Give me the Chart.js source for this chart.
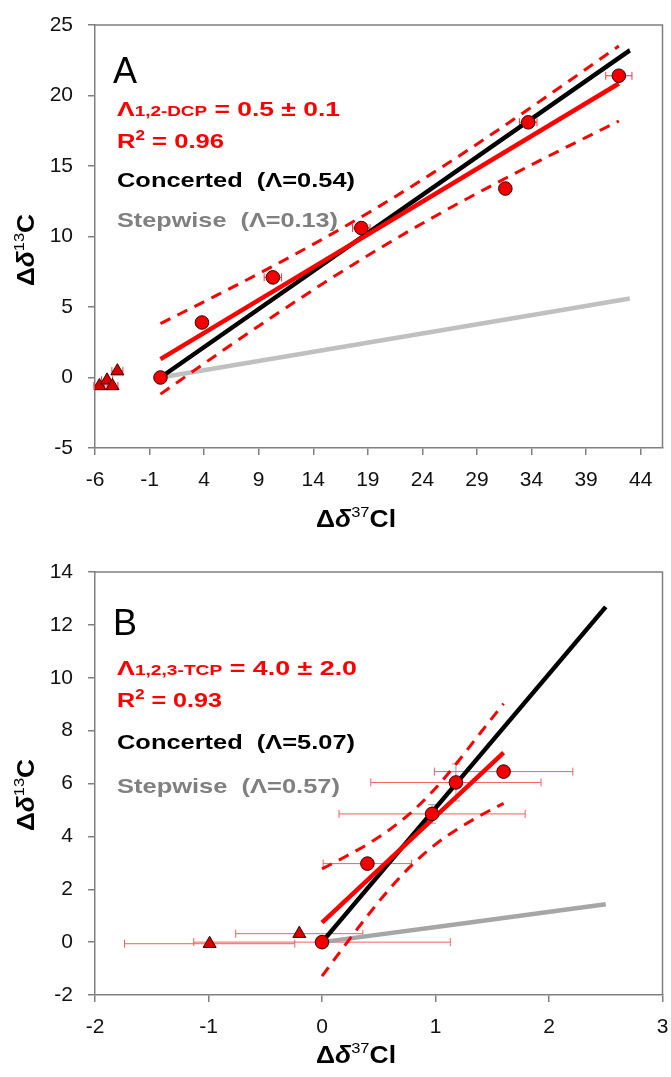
<!DOCTYPE html>
<html>
<head>
<meta charset="utf-8">
<script src="https://cdn.jsdelivr.net/npm/chart.js@4.4.0/dist/chart.umd.min.js"></script>
<style>
  body { margin: 0; background: #fff; }
  canvas { display: block; }
</style>
</head>
<body>
<canvas id="chartA" width="671" height="540"></canvas>
<canvas id="chartB" width="671" height="537"></canvas>
<script>
// ---- Panel A : 1,2-DCP ----
const circlesAX = [0, 3.8, 10.3, 18.4, 31.6, 33.7, 42.0];
const circlesAY = [0, 3.9, 7.1, 10.6, 13.4, 18.1, 21.4];
const circlesAXErr = [0.3, 0.3, 0.8, 0.8, 0.3, 0.8, 1.2];
const trianglesAX = [-5.6, -4.9, -4.4, -3.95];
const trianglesAY = [-0.6, -0.2, -0.6, 0.45];
const trianglesAXErr = [0.5, 0.5, 0.5, 0.5];
const modelXA = [0, 43];
const concertedAY = [0, 23.2];
const stepwiseAY = [0, 5.6];
const fitXA = [0, 42];
const fitAY = [1.3, 20.85];
const bandXA = [0, 5, 10, 15, 20, 25, 30, 35, 42];
const bandUpperA = [3.82, 5.77, 7.77, 9.88, 12.12, 14.53, 17.07, 19.72, 23.51];
const bandLowerA = [-1.18, 1.53, 4.17, 6.72, 9.12, 11.37, 13.47, 15.48, 18.19];
const xTicksA = [-6, -1, 4, 9, 14, 19, 24, 29, 34, 39, 44];
const yTicksA = [-5, 0, 5, 10, 15, 20, 25];

// ---- Panel B : 1,2,3-TCP ----
const circlesBX = [0, 0.40, 0.97, 1.18, 1.60];
const circlesBY = [0, 2.97, 4.85, 6.04, 6.45];
const circlesBXErr = [1.13, 0.39, 0.82, 0.75, 0.61];
const circlesBYErr = [0, 0, 0.35, 0.7, 0];
const trianglesBX = [-0.99, -0.20];
const trianglesBY = [-0.06, 0.32];
const trianglesBXErr = [0.75, 0.56];
const modelXB = [0, 2.5];
const concertedBY = [0, 12.68];
const stepwiseBY = [0, 1.43];
const fitXB = [0, 1.6];
const fitBY = [0.74, 7.17];
const bandXB = [0, 0.2, 0.4, 0.6, 0.8, 1.0, 1.2, 1.4, 1.6];
const bandUpperB = [2.77, 3.22, 3.70, 4.27, 4.96, 5.82, 6.84, 7.94, 9.02];
const bandLowerB = [-1.29, -0.13, 0.99, 2.04, 2.95, 3.70, 4.29, 4.80, 5.25];
const xTicksB = [-2, -1, 0, 1, 2, 3];
const yTicksB = [-2, 0, 2, 4, 6, 8, 10, 12, 14];

const FONT = "'Liberation Sans', Arial, sans-serif";
const RED = '#ff0000';
const GREY_TXT = '#808080';
const AXIS = '#808080';
Chart.defaults.font.family = FONT;

const b = px => 'bold ' + px + 'px ' + FONT;
const n = px => px + 'px ' + FONT;
const bi = px => 'italic bold ' + px + 'px ' + FONT;

function pts(xs, ys) {
  return xs.map((v, i) => ({ x: v, y: ys[i] }));
}

// draw a row of differently styled text pieces, squeezed/stretched to a width
function drawRuns(ctx, x, y, runs, width, center) {
  let natural = 0;
  runs.forEach(r => { ctx.font = r[1]; natural += ctx.measureText(r[0]).width; });
  const sx = width ? width / natural : 1;
  ctx.save();
  ctx.translate(center ? x - natural * sx / 2 : x, y);
  ctx.scale(sx, 1);
  ctx.textAlign = 'left';
  ctx.textBaseline = 'alphabetic';
  let cx = 0;
  runs.forEach(r => {
    ctx.font = r[1];
    ctx.fillStyle = r[2];
    ctx.fillText(r[0], cx, r[3] || 0);
    cx += ctx.measureText(r[0]).width;
  });
  ctx.restore();
}

const errorBars = {
  id: 'errorBars',
  beforeDatasetsDraw(chart, args, opts) {
    const { ctx, scales: { x, y } } = chart;
    ctx.save();
    ctx.lineWidth = 1;
    opts.sets.forEach(s => {
      s.xs.forEach((xv, i) => {
        const px = x.getPixelForValue(xv);
        const py = y.getPixelForValue(s.ys[i]);
        const ex = s.xerr ? s.xerr[i] : 0;
        if (ex) {
          const x0 = x.getPixelForValue(xv - ex), x1 = x.getPixelForValue(xv + ex);
          ctx.strokeStyle = s.color;
          ctx.beginPath();
          ctx.moveTo(x0, py); ctx.lineTo(x1, py);
          ctx.moveTo(x0, py - 4); ctx.lineTo(x0, py + 4);
          ctx.moveTo(x1, py - 4); ctx.lineTo(x1, py + 4);
          ctx.stroke();
        }
        const ey = s.yerr ? s.yerr[i] : 0;
        if (ey) {
          const y0 = y.getPixelForValue(s.ys[i] - ey), y1 = y.getPixelForValue(s.ys[i] + ey);
          ctx.strokeStyle = '#999';
          ctx.beginPath();
          ctx.moveTo(px, y0); ctx.lineTo(px, y1);
          ctx.moveTo(px - 4, y0); ctx.lineTo(px + 4, y0);
          ctx.moveTo(px - 4, y1); ctx.lineTo(px + 4, y1);
          ctx.stroke();
        }
      });
    });
    ctx.restore();
  }
};

const annotations = {
  id: 'annotations',
  afterDraw(chart, args, o) {
    const { ctx, chartArea: a } = chart;
    ctx.save();
    // frame top and right
    ctx.strokeStyle = AXIS;
    ctx.lineWidth = 1.5;
    ctx.beginPath();
    ctx.moveTo(a.left, a.top); ctx.lineTo(a.right, a.top); ctx.lineTo(a.right, a.bottom);
    ctx.stroke();
    // panel letter
    ctx.font = n(36);
    ctx.fillStyle = '#000';
    ctx.fillText(o.letter, 113, o.letterY);
    o.lines.forEach(l => drawRuns(ctx, 117, l.y, l.runs, l.w));
    // axis titles
    drawRuns(ctx, 356, o.xTitleY, [['Δ', b(24), '#000'], ['δ', bi(24), '#000'], ['37', n(15), '#000', -10], ['Cl', b(24), '#000']], 80, true);
    ctx.translate(34, o.yTitleY);
    ctx.rotate(-Math.PI / 2);
    drawRuns(ctx, 0, 0, [['Δ', b(24), '#000'], ['δ', bi(24), '#000'], ['13', n(15), '#000', -10], ['C', b(24), '#000']], 72, true);
    ctx.restore();
  }
};

function lineSet(xs, ys, color, width, dashed) {
  return {
    data: pts(xs, ys), showLine: true, pointRadius: 0,
    borderColor: color, borderWidth: width, borderDash: dashed ? [11, 8] : [],
    tension: dashed ? 0.4 : 0, cubicInterpolationMode: 'monotone', fill: false
  };
}

function buildPanel(id, p) {
  const axisBase = {
    type: 'linear',
    grid: { drawOnChartArea: false, drawTicks: true, tickLength: 7, color: AXIS, lineWidth: 1.5 },
    border: { display: true, color: AXIS, width: 1.5 }
  };
  return new Chart(document.getElementById(id), {
    type: 'scatter',
    data: {
      datasets: [
        { data: pts(p.cx, p.cy), pointStyle: 'circle', pointRadius: 6.8, backgroundColor: '#f00000', borderColor: '#3a0000', borderWidth: 1 },
        { data: pts(p.tx, p.ty), pointStyle: 'triangle', pointRadius: 7.5, backgroundColor: '#d80000', borderColor: '#3a0000', borderWidth: 1 },
        lineSet(p.fitX, p.fitY, RED, 4.5),
        lineSet(p.bandX, p.up, RED, 3, true),
        lineSet(p.bandX, p.lo, RED, 3, true),
        lineSet(p.modelX, p.conc, '#000', 4.5),
        lineSet(p.modelX, p.step, p.stepColor, 4.5)
      ]
    },
    options: {
      responsive: false,
      animation: false,
      events: [],
      layout: { padding: { top: p.top, right: 8, left: 0, bottom: 0 } },
      plugins: {
        legend: { display: false },
        tooltip: { enabled: false },
        errorBars: { sets: p.err },
        annotations: p.text
      },
      scales: {
        x: Object.assign({}, axisBase, {
          min: p.xMin, max: p.xMax,
          afterBuildTicks: s => { s.ticks = p.xTicks.map(v => ({ value: v })); },
          afterFit: s => { s.height = p.xAxisH; s.paddingLeft = 0; s.paddingRight = 0; },
          ticks: { autoSkip: false, maxRotation: 0, padding: 13, color: '#111', font: { size: 21 } }
        }),
        y: Object.assign({}, axisBase, {
          min: p.yMin, max: p.yMax,
          afterBuildTicks: s => { s.ticks = p.yTicks.map(v => ({ value: v })); },
          afterFit: s => { s.width = 95; s.paddingTop = 0; s.paddingBottom = 0; },
          ticks: { autoSkip: false, padding: 15, color: '#111', font: { size: 21 } }
        })
      }
    },
    plugins: [errorBars, annotations]
  });
}

buildPanel('chartA', {
  cx: circlesAX, cy: circlesAY, tx: trianglesAX, ty: trianglesAY,
  fitX: fitXA, fitY: fitAY, bandX: bandXA, up: bandUpperA, lo: bandLowerA,
  modelX: modelXA, conc: concertedAY, step: stepwiseAY, stepColor: '#c0c0c0',
  xMin: -6, xMax: 46, yMin: -5, yMax: 25, xTicks: xTicksA, yTicks: yTicksA,
  top: 25, xAxisH: 92,
  err: [
    { xs: circlesAX, ys: circlesAY, xerr: circlesAXErr, color: '#ff3030' },
    { xs: trianglesAX, ys: trianglesAY, xerr: trianglesAXErr, color: '#ff3030' }
  ],
  text: {
    letter: 'A', letterY: 83, xTitleY: 527, yTitleY: 250,
    lines: [
      { y: 116, w: 223, runs: [['Λ', b(21), RED], ['1,2-DCP', b(15), RED], [' = 0.5 ± 0.1', b(21), RED]] },
      { y: 148, w: 107, runs: [['R', b(21), RED], ['2', b(14), RED, -8], [' = 0.96', b(21), RED]] },
      { y: 187, w: 238, runs: [['Concerted  (Λ=0.54)', b(21), '#000']] },
      { y: 227, w: 221, runs: [['Stepwise  (Λ=0.13)', b(21), GREY_TXT]] }
    ]
  }
});

buildPanel('chartB', {
  cx: circlesBX, cy: circlesBY, tx: trianglesBX, ty: trianglesBY,
  fitX: fitXB, fitY: fitBY, bandX: bandXB, up: bandUpperB, lo: bandLowerB,
  modelX: modelXB, conc: concertedBY, step: stepwiseBY, stepColor: '#a6a6a6',
  xMin: -2, xMax: 3, yMin: -2, yMax: 14, xTicks: xTicksB, yTicks: yTicksB,
  top: 32, xAxisH: 82,
  err: [
    { xs: circlesBX, ys: circlesBY, xerr: circlesBXErr, yerr: circlesBYErr, color: '#f26060' },
    { xs: trianglesBX, ys: trianglesBY, xerr: trianglesBXErr, color: '#f26060' }
  ],
  text: {
    letter: 'B', letterY: 95, xTitleY: 523, yTitleY: 255,
    lines: [
      { y: 135, w: 240, runs: [['Λ', b(21), RED], ['1,2,3-TCP', b(15), RED], [' = 4.0 ± 2.0', b(21), RED]] },
      { y: 167, w: 105, runs: [['R', b(21), RED], ['2', b(14), RED, -8], [' = 0.93', b(21), RED]] },
      { y: 209, w: 238, runs: [['Concerted  (Λ=5.07)', b(21), '#000']] },
      { y: 253, w: 223, runs: [['Stepwise  (Λ=0.57)', b(21), GREY_TXT]] }
    ]
  }
});
</script>
</body>
</html>
